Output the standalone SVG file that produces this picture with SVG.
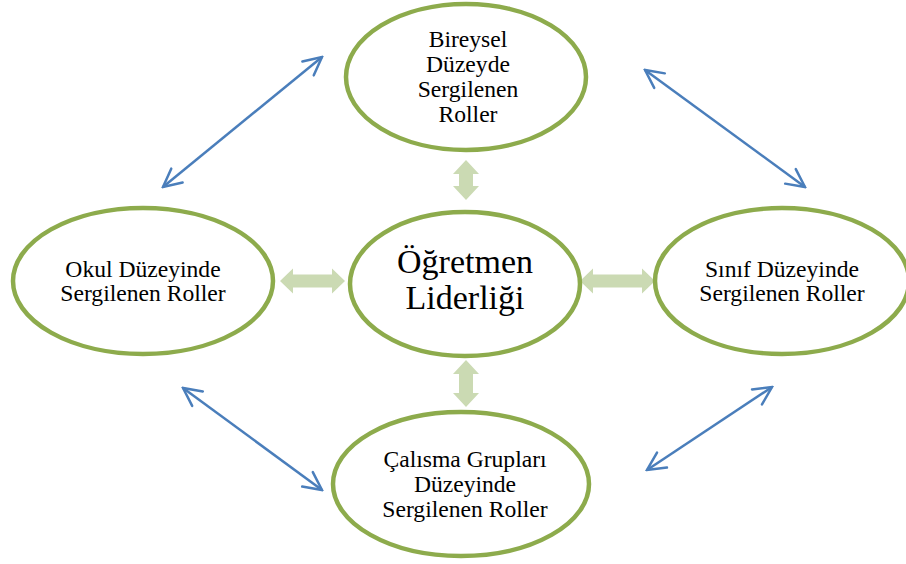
<svg xmlns="http://www.w3.org/2000/svg" width="906" height="564" viewBox="0 0 906 564">
  <style>
    .node ellipse { fill: #ffffff; stroke: #8dab4c; stroke-width: 4.5; }
    .node text { font-family: "Liberation Serif", "Times New Roman", serif; font-size: 23.6px; fill: #000000; text-anchor: middle; }
    #center text { font-size: 34px; }
    .link { stroke: #4a7ebb; stroke-width: 2.5; fill: none; marker-start: url(#chevron); marker-end: url(#chevron); }
    .block { fill: #cbdab3; stroke: none; }
  </style>
  <defs>
    <marker id="chevron" viewBox="-2 -12 22 24" refX="18" refY="0" markerUnits="userSpaceOnUse" markerWidth="22" markerHeight="24" orient="auto-start-reverse">
      <path d="M0,-9 L18,0 L0,9" fill="none" stroke="#4a7ebb" stroke-width="2.5" stroke-linecap="round" stroke-linejoin="miter"/>
    </marker>
  </defs>

  <!-- connectors -->
  <g id="connectors">
    <line class="link" x1="163" y1="187" x2="322" y2="57"/>
    <line class="link" x1="645" y1="70" x2="805" y2="187"/>
    <line class="link" x1="183" y1="388" x2="322" y2="490"/>
    <line class="link" x1="647" y1="470" x2="772" y2="387"/>
    <!-- double block arrows around the centre -->
    <polygon class="block" points="280,281 293,268.5 293,274.5 332,274.5 332,268.5 345,281 332,293.5 332,287.5 293,287.5 293,293.5"/>
    <polygon class="block" points="580,281 593,268.5 593,274.5 642,274.5 642,268.5 655,281 642,293.5 642,287.5 593,287.5 593,293.5"/>
    <polygon class="block" points="466,160 479,174 473,174 473,186 479,186 466,200 453,186 459,186 459,174 453,174"/>
    <polygon class="block" points="466,360 479,374 473,374 473,393 479,393 466,407 453,393 459,393 459,374 453,374"/>
  </g>

  <g id="top" class="node">
    <ellipse cx="466" cy="77" rx="120" ry="73"/>
    <text x="468" y="47">Bireysel</text>
    <text x="468" y="72">Düzeyde</text>
    <text x="468" y="97">Sergilenen</text>
    <text x="468" y="122">Roller</text>
  </g>

  <g id="left" class="node">
    <ellipse cx="143" cy="281" rx="130" ry="73"/>
    <text x="143" y="277">Okul Düzeyinde</text>
    <text x="143" y="301">Sergilenen Roller</text>
  </g>

  <g id="center" class="node">
    <ellipse cx="465" cy="284" rx="115" ry="72"/>
    <text x="465" y="273">Öğretmen</text>
    <text x="465" y="309">Liderliği</text>
  </g>

  <g id="right" class="node">
    <ellipse cx="782" cy="281" rx="127" ry="73"/>
    <text x="782" y="277">Sınıf Düzeyinde</text>
    <text x="782" y="301">Sergilenen Roller</text>
  </g>

  <g id="bottom" class="node">
    <ellipse cx="461" cy="484" rx="128" ry="72"/>
    <text x="465" y="467">Çalısma Grupları</text>
    <text x="465" y="492">Düzeyinde</text>
    <text x="465" y="517">Sergilenen Roller</text>
  </g>
</svg>
